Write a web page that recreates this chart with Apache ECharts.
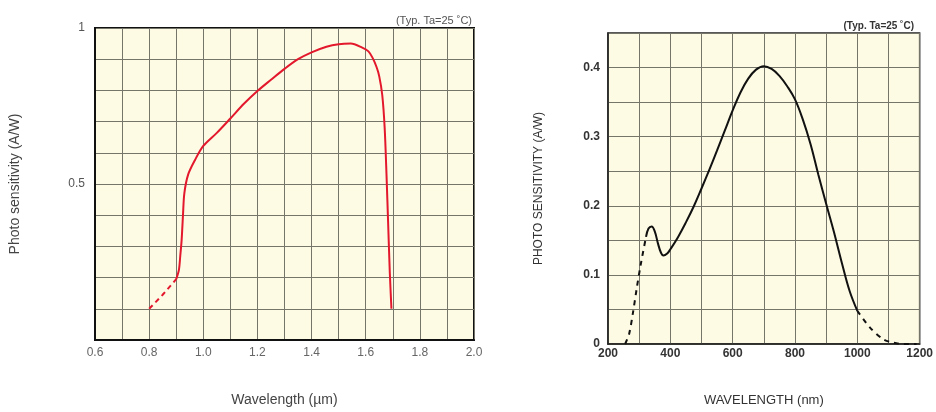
<!DOCTYPE html>
<html>
<head>
<meta charset="utf-8">
<script src="https://cdn.jsdelivr.net/npm/echarts@6/dist/echarts.min.js"></script>
<style>
html,body{margin:0;padding:0;background:#fff;overflow:hidden;}
#c{width:936px;height:412px;}
</style>
</head>
<body>
<div id="c"></div>
<script>
// Left chart (µm, A/W)
const leftDashX = [0.8, 0.85, 0.9];
const leftDashY = [0.1, 0.145, 0.195];
const leftSolidX = [0.9, 0.91, 0.915, 0.92, 0.925, 0.93, 0.944, 0.97, 1.0, 1.05, 1.1, 1.15, 1.2, 1.25, 1.3, 1.35, 1.4, 1.455, 1.5, 1.545, 1.587, 1.61, 1.625, 1.64, 1.65, 1.661, 1.67, 1.677, 1.683, 1.689, 1.695];
const leftSolidY = [0.195, 0.225, 0.27, 0.32, 0.40, 0.47, 0.53, 0.578, 0.622, 0.664, 0.71, 0.757, 0.798, 0.834, 0.869, 0.9, 0.922, 0.94, 0.948, 0.95, 0.937, 0.925, 0.905, 0.875, 0.845, 0.786, 0.68, 0.525, 0.37, 0.216, 0.10];
const leftYLabels = ['0.5', '1'];

// Right chart (nm, A/W)
const rightDash1X = [255, 268, 280, 292, 305, 322];
const rightDash1Y = [0.0, 0.015, 0.045, 0.08, 0.115, 0.155];
const rightSolidX = [322, 330, 340, 350, 360, 370, 378, 390, 400, 425, 450, 475, 500, 525, 550, 575, 600, 625, 650, 675, 700, 725, 750, 775, 800, 825, 850, 875, 900, 925, 950, 975, 1000];
const rightSolidY = [0.155, 0.167, 0.170, 0.163, 0.146, 0.132, 0.128, 0.131, 0.137, 0.155, 0.176, 0.199, 0.225, 0.252, 0.28, 0.309, 0.338, 0.364, 0.384, 0.397, 0.402, 0.398, 0.388, 0.373, 0.354, 0.325, 0.289, 0.245, 0.203, 0.162, 0.118, 0.077, 0.048];
const rightDash2X = [1000, 1040, 1083, 1115, 1150, 1190];
const rightDash2Y = [0.048, 0.024, 0.007, 0.002, 0.0, 0.0];

const zip = (xs, ys) => xs.map((x, i) => [x, ys[i]]);

const cream = '#fdfbe4';
const gridLine = { show: true, lineStyle: { color: '#75756a', width: 1 } };
const font = 'Liberation Sans, Arial, sans-serif';

const chart = echarts.init(document.getElementById('c'));
chart.setOption({
  animation: false,
  title: [
    { text: '(Typ. Ta=25 \u02daC)', right: 459, top: 10, textStyle: { fontSize: 11, fontWeight: 'normal', color: '#555', fontFamily: font } },
    { text: '(Typ. Ta=25 \u02daC)', right: 17, top: 16, textStyle: { fontSize: 10, fontWeight: 'bold', color: '#333', fontFamily: font } }
  ],
  grid: [
    { left: 95, top: 28, width: 379, height: 322, show: true, backgroundColor: cream, borderColor: '#111', borderWidth: 2 },
    { left: 608, top: 33, width: 313, height: 314, show: true, backgroundColor: cream, borderColor: '#222', borderWidth: 1.5 }
  ],
  xAxis: [
    {
      gridIndex: 0, type: 'value', min: 0.6, max: 2.0, interval: 0.1,
      name: 'Wavelength (\u00b5m)', nameLocation: 'middle', nameGap: 53,
      nameTextStyle: { fontSize: 14, color: '#444', fontFamily: font },
      axisLine: { show: true, lineStyle: { color: '#111', width: 2 } },
      axisTick: { show: false },
      splitLine: gridLine,
      axisLabel: {
        color: '#666', fontSize: 12, fontFamily: font, margin: 7,
        formatter: v => (Math.round(v * 10) % 2 === 0 ? (Math.round(v * 10) / 10).toFixed(1) : '')
      }
    },
    {
      gridIndex: 1, type: 'value', min: 200, max: 1200, interval: 100,
      name: 'WAVELENGTH (nm)', nameLocation: 'middle', nameGap: 50,
      nameTextStyle: { fontSize: 13, color: '#333', fontFamily: font },
      axisLine: { show: true, lineStyle: { color: '#222', width: 1.5 } },
      axisTick: { show: false },
      splitLine: gridLine,
      axisLabel: {
        color: '#333', fontSize: 12, fontWeight: 'bold', fontFamily: font, margin: 4,
        formatter: v => (Math.round(v) % 200 === 0 ? String(Math.round(v)) : '')
      }
    }
  ],
  yAxis: [
    {
      gridIndex: 0, type: 'value', min: 0, max: 1, interval: 0.1,
      name: 'Photo sensitivity (A/W)', nameLocation: 'middle', nameGap: 73,
      nameTextStyle: { fontSize: 14, color: '#444', fontFamily: font },
      axisLine: { show: true, lineStyle: { color: '#111', width: 2 } },
      axisTick: { show: false },
      splitLine: gridLine,
      axisLabel: {
        color: '#555', fontSize: 12, fontFamily: font, margin: 10,
        formatter: v => {
          const r = Math.round(v * 10) / 10;
          return leftYLabels.indexOf(String(r)) >= 0 ? String(r) : '';
        }
      }
    },
    {
      gridIndex: 1, type: 'value', min: 0, max: 0.45, interval: 0.05,
      name: 'PHOTO SENSITIVITY (A/W)', nameLocation: 'middle', nameGap: 63,
      nameTextStyle: { fontSize: 12, color: '#333', fontFamily: font },
      axisLine: { show: true, lineStyle: { color: '#222', width: 1.5 } },
      axisTick: { show: false },
      splitLine: gridLine,
      axisLabel: {
        color: '#333', fontSize: 12, fontWeight: 'bold', fontFamily: font, margin: 8,
        formatter: v => {
          const k = Math.round(v * 100);
          return k % 10 === 0 ? String(k / 100) : '';
        }
      }
    }
  ],
  series: [
    {
      type: 'line', xAxisIndex: 0, yAxisIndex: 0, data: zip(leftDashX, leftDashY),
      showSymbol: false, smooth: false,
      lineStyle: { color: '#e3182d', width: 2, type: [5, 4] }
    },
    {
      type: 'line', xAxisIndex: 0, yAxisIndex: 0, data: zip(leftSolidX, leftSolidY),
      showSymbol: false, smooth: 0.3,
      lineStyle: { color: '#e3182d', width: 2 }
    },
    {
      type: 'line', xAxisIndex: 1, yAxisIndex: 1, data: zip(rightDash1X, rightDash1Y),
      showSymbol: false, smooth: 0.3,
      lineStyle: { color: '#111', width: 2, type: [5, 5] }
    },
    {
      type: 'line', xAxisIndex: 1, yAxisIndex: 1, data: zip(rightSolidX, rightSolidY),
      showSymbol: false, smooth: 0.4,
      lineStyle: { color: '#111', width: 2 }
    },
    {
      type: 'line', xAxisIndex: 1, yAxisIndex: 1, data: zip(rightDash2X, rightDash2Y),
      showSymbol: false, smooth: 0.3,
      lineStyle: { color: '#111', width: 2, type: [5, 5] }
    }
  ]
});
</script>
</body>
</html>
